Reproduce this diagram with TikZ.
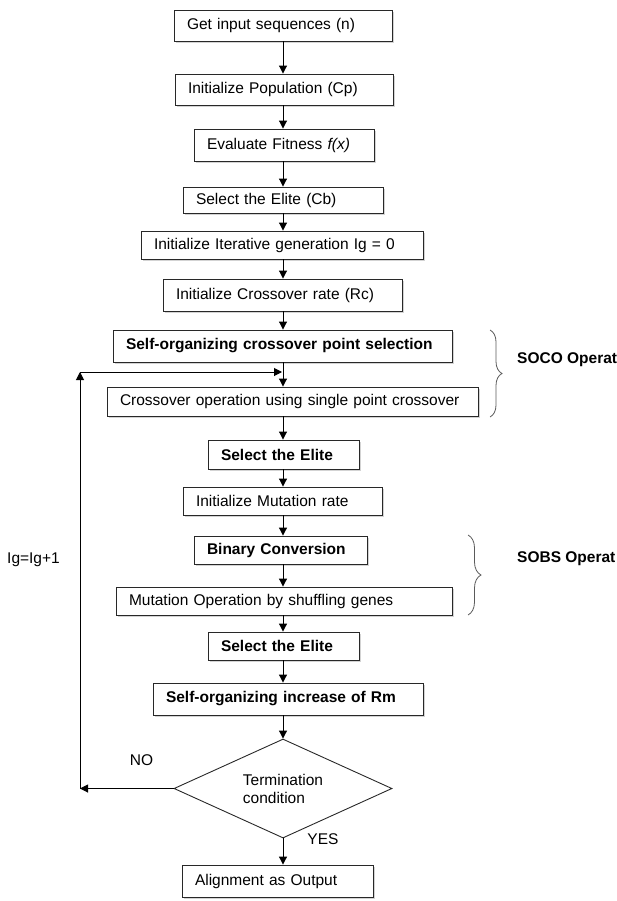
\documentclass[tikz,border=0pt]{standalone}
\usepackage{fontspec}
\setmainfont{Liberation Sans}
\usepackage{tikz}
\usetikzlibrary{arrows.meta, shapes.geometric, shadows, decorations.pathreplacing}
\definecolor{edge}{RGB}{40, 40, 40}
\definecolor{brace}{RGB}{90, 90, 90}

\begin{document}
\begin{tikzpicture}[x=1pt, y=-1pt,
    font=\fontsize{15.5}{18}\selectfont,
    stepbox/.style={draw=edge, line width=0.9pt, fill=white, align=left, inner xsep=13pt, inner ysep=0pt,
      drop shadow={shadow xshift=1.8pt, shadow yshift=-1.8pt, opacity=0.35}},
    arr/.style={line width=1pt, -{Triangle[length=8pt, width=8pt]}}]
  \useasboundingbox (0, 0) rectangle (617, 901);
  \coordinate (spine) at (283, 0);

  % Set up
  \node[stepbox, text width=192pt, minimum height=31pt] (get) at (283, 25.5) {Get input sequences (n)};
  \node[stepbox, text width=192pt, minimum height=31pt] (pop) at (284, 89.5) {Initialize Population (Cp)};
  \node[stepbox, text width=154pt, minimum height=32pt] (fit) at (284, 145) {Evaluate Fitness \textit{f(x)}};
  \node[stepbox, text width=174pt, minimum height=26pt] (elite) at (283, 200) {Select the Elite (Cb)};
  \node[stepbox, text width=256pt, minimum height=28pt] (iter) at (282, 245) {Initialize Iterative generation Ig = 0};
  \node[stepbox, text width=213pt, minimum height=32pt] (rate) at (282.5, 295) {Initialize Crossover rate (Rc)};

  % SOCO
  \node[stepbox, text width=313pt, minimum height=32pt] (soco) at (282.5, 346) {\textbf{Self-organizing crossover point selection}};
  \node[stepbox, text width=345pt, minimum height=29pt] (cross) at (292.5, 401.5) {Crossover operation using single point crossover};
  \node[stepbox, text width=125pt, minimum height=29pt] (eliteA) at (283.5, 454.5) {\textbf{Select the Elite}};
  \node[stepbox, text width=173pt, minimum height=28pt] (mrate) at (282.5, 501) {Initialize Mutation rate};

  % SOBS
  \node[stepbox, text width=147pt, minimum height=28pt] (binary) at (280.5, 550) {\textbf{Binary Conversion}};
  \node[stepbox, text width=310pt, minimum height=28pt] (mut) at (284, 601) {Mutation Operation by shuffling genes};
  \node[stepbox, text width=125pt, minimum height=28pt] (eliteB) at (283.5, 646) {\textbf{Select the Elite}};
  \node[stepbox, text width=244pt, minimum height=32pt] (incr) at (288, 699) {\textbf{Self-organizing increase of Rm}};

  % Test and output
  \node[diamond, draw=edge, line width=0.9pt, aspect=2.2, inner sep=0pt, align=left,
    minimum width=218pt, minimum height=99pt] (term) at (283, 788.5) {Termination\\condition};
  \node[stepbox, text width=165pt, minimum height=32pt] (out) at (277.5, 881) {Alignment as Output};

  \foreach \a/\b in {get/pop, pop/fit, fit/elite, elite/iter, iter/rate, rate/soco, soco/cross,
      cross/eliteA, eliteA/mrate, mrate/binary, binary/mut, mut/eliteB, eliteB/incr, incr/term, term/out} {
    \draw[arr] (spine |- \a.south) -- (spine |- \b.north);
  }

  % Loop back
  \coordinate (corner) at (80, 788.5);
  \coordinate (looptop) at (80, 372);
  \coordinate (loopin) at (282, 372);
  \draw[arr] (term.west) -- (corner);
  \draw[arr] (corner) -- (looptop);
  \draw[arr] (looptop) -- (loopin);

  \node (no) at (141.5, 760) {NO};
  \node (yes) at (323, 839) {YES};
  \node (inc) at (33.5, 560) {Ig=Ig+1};

  % Braces
  \draw[brace, line width=0.8pt, decorate, decoration={brace, amplitude=12pt}] (490, 330) -- (490, 417);
  \draw[brace, line width=0.8pt, decorate, decoration={brace, amplitude=13pt}] (468, 535) -- (468, 615);
  \node[anchor=west, inner sep=0pt] (soco lbl) at (517, 360) {\textbf{SOCO Operat}};
  \node[anchor=west, inner sep=0pt] (sobs lbl) at (517, 559) {\textbf{SOBS Operat}};

\end{tikzpicture}
\end{document}
